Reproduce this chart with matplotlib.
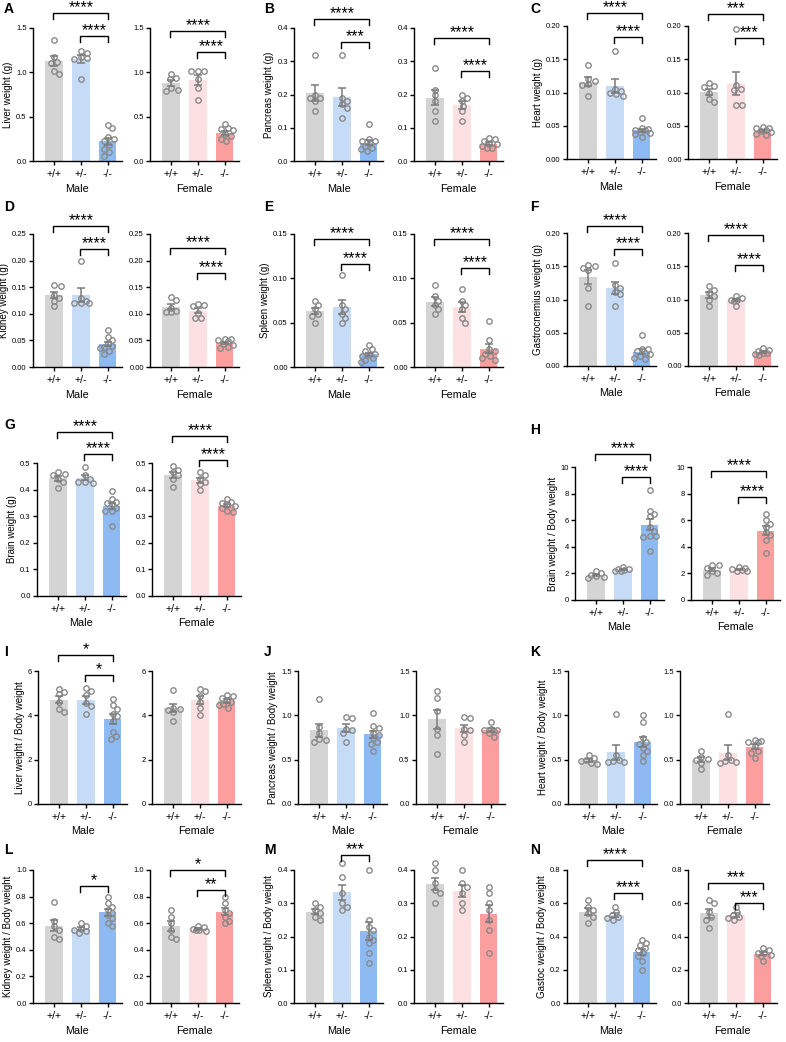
import numpy as np
import matplotlib
matplotlib.use('Agg')
import matplotlib.pyplot as plt

plt.rcParams['font.family'] = ['Liberation Sans', 'DejaVu Sans']

# ---------------- data (individual animals; bars = mean, error = SEM) ----------------
genotypes = ['+/+', '+/-', '-/-']
sexes = ['Male', 'Female']

liver_male = [[1.36, 1.17, 1.12, 1.10, 1.02, 0.98], [1.24, 1.22, 1.17, 1.16, 1.15, 0.93],
              [0.41, 0.37, 0.27, 0.25, 0.22, 0.18, 0.14, 0.10, 0.06]]
liver_female = [[0.985, 0.94, 0.92, 0.82, 0.80, 0.79], [1.02, 1.02, 1.02, 0.925, 0.82, 0.69],
                [0.42, 0.37, 0.36, 0.35, 0.30, 0.28, 0.25, 0.22]]

pancreas_male = [[0.32, 0.20, 0.19, 0.19, 0.18, 0.15], [0.32, 0.19, 0.18, 0.17, 0.16, 0.13],
                 [0.11, 0.065, 0.06, 0.06, 0.055, 0.045, 0.04, 0.035, 0.03]]
pancreas_female = [[0.28, 0.215, 0.197, 0.18, 0.15, 0.12], [0.20, 0.19, 0.18, 0.165, 0.15, 0.12],
                   [0.07, 0.065, 0.06, 0.05, 0.05, 0.045, 0.04, 0.04]]

heart_male = [[0.141, 0.121, 0.118, 0.113, 0.111, 0.095], [0.162, 0.105, 0.103, 0.099, 0.097, 0.095],
              [0.061, 0.046, 0.045, 0.044, 0.043, 0.041, 0.039, 0.037, 0.033]]
heart_female = [[0.114, 0.11, 0.108, 0.10, 0.09, 0.085], [0.196, 0.112, 0.106, 0.104, 0.081, 0.081],
                [0.048, 0.047, 0.046, 0.044, 0.042, 0.040, 0.038, 0.036]]

kidney_male = [[0.155, 0.152, 0.135, 0.13, 0.125, 0.115], [0.20, 0.13, 0.125, 0.12, 0.12, 0.12],
               [0.07, 0.057, 0.05, 0.045, 0.04, 0.037, 0.035, 0.03, 0.025]]
kidney_female = [[0.132, 0.126, 0.11, 0.105, 0.104, 0.104], [0.119, 0.117, 0.114, 0.101, 0.092, 0.092],
                 [0.053, 0.052, 0.05, 0.048, 0.044, 0.042, 0.038, 0.036]]

spleen_male = [[0.075, 0.07, 0.065, 0.06, 0.058, 0.05], [0.104, 0.07, 0.065, 0.06, 0.055, 0.05],
               [0.025, 0.02, 0.018, 0.015, 0.013, 0.012, 0.01, 0.008, 0.006]]
spleen_female = [[0.093, 0.08, 0.075, 0.07, 0.065, 0.06], [0.088, 0.075, 0.07, 0.065, 0.055, 0.05],
                 [0.052, 0.03, 0.02, 0.018, 0.015, 0.012, 0.01, 0.008]]

gastro_male = [[0.152, 0.15, 0.148, 0.145, 0.118, 0.09], [0.155, 0.122, 0.118, 0.112, 0.108, 0.09],
               [0.046, 0.026, 0.025, 0.022, 0.02, 0.018, 0.015, 0.012, 0.01]]
gastro_female = [[0.12, 0.115, 0.11, 0.105, 0.10, 0.09], [0.105, 0.103, 0.10, 0.10, 0.098, 0.09],
                 [0.027, 0.024, 0.022, 0.02, 0.019, 0.018, 0.016]]

brain_male = [[0.465, 0.46, 0.455, 0.44, 0.43, 0.405], [0.485, 0.455, 0.44, 0.43, 0.43, 0.425],
              [0.395, 0.365, 0.355, 0.35, 0.345, 0.33, 0.32, 0.32, 0.265]]
brain_female = [[0.49, 0.475, 0.465, 0.455, 0.44, 0.41], [0.465, 0.455, 0.44, 0.43, 0.42, 0.40],
                [0.365, 0.355, 0.35, 0.345, 0.34, 0.33, 0.32, 0.315]]

brain_ratio_male = [[2.2, 2.0, 1.9, 1.8, 1.7, 1.65], [2.5, 2.35, 2.3, 2.25, 2.2, 2.15],
                    [8.3, 6.7, 6.5, 6.3, 5.5, 5.2, 4.8, 4.8, 4.7, 3.7]]
brain_ratio_female = [[2.6, 2.6, 2.4, 2.2, 2.0, 1.9], [2.45, 2.4, 2.3, 2.25, 2.2, 2.15],
                      [6.5, 6.0, 5.7, 5.5, 5.1, 4.9, 4.5, 3.5]]

liver_ratio_male = [[5.2, 5.05, 4.95, 4.6, 4.3, 4.15], [5.25, 5.1, 4.9, 4.55, 4.4, 4.05],
                    [4.75, 4.45, 4.3, 4.05, 3.95, 3.75, 3.25, 3.05, 2.95]]
liver_ratio_female = [[5.15, 4.35, 4.3, 4.25, 4.15, 3.75], [5.2, 5.1, 4.85, 4.6, 4.35, 4.0],
                      [4.9, 4.85, 4.8, 4.7, 4.6, 4.5, 4.45, 4.35]]

pancreas_ratio_male = [[1.18, 0.87, 0.80, 0.73, 0.72, 0.70], [0.98, 0.97, 0.85, 0.83, 0.80, 0.70],
                       [1.03, 0.88, 0.86, 0.80, 0.78, 0.74, 0.70, 0.68, 0.60]]
pancreas_ratio_female = [[1.28, 1.20, 1.05, 0.85, 0.78, 0.56], [0.98, 0.97, 0.85, 0.83, 0.78, 0.70],
                         [0.93, 0.85, 0.84, 0.83, 0.82, 0.80, 0.76]]

heart_ratio_male = [[0.55, 0.52, 0.50, 0.48, 0.46, 0.45], [1.02, 0.55, 0.50, 0.48, 0.47, 0.47],
                    [1.0, 0.92, 0.75, 0.70, 0.68, 0.63, 0.60, 0.55, 0.48]]
heart_ratio_female = [[0.60, 0.53, 0.51, 0.50, 0.46, 0.40], [1.02, 0.55, 0.50, 0.48, 0.47, 0.46],
                      [0.72, 0.71, 0.70, 0.70, 0.65, 0.60, 0.58, 0.52]]

kidney_ratio_male = [[0.76, 0.62, 0.58, 0.55, 0.50, 0.48], [0.60, 0.58, 0.56, 0.55, 0.54, 0.53],
                     [0.80, 0.75, 0.72, 0.70, 0.68, 0.66, 0.64, 0.60, 0.58]]
kidney_ratio_female = [[0.70, 0.65, 0.60, 0.55, 0.50, 0.48], [0.58, 0.57, 0.56, 0.55, 0.55, 0.54],
                       [0.80, 0.75, 0.70, 0.68, 0.65, 0.62, 0.60]]

spleen_ratio_male = [[0.30, 0.29, 0.28, 0.27, 0.26, 0.25], [0.42, 0.38, 0.33, 0.30, 0.29, 0.28],
                     [0.40, 0.25, 0.23, 0.22, 0.20, 0.19, 0.18, 0.15, 0.12]]
spleen_ratio_female = [[0.42, 0.40, 0.36, 0.34, 0.33, 0.30], [0.40, 0.36, 0.35, 0.33, 0.30, 0.28],
                       [0.35, 0.33, 0.30, 0.28, 0.25, 0.22, 0.15]]

gastro_ratio_male = [[0.62, 0.58, 0.56, 0.54, 0.52, 0.48], [0.58, 0.55, 0.53, 0.52, 0.51, 0.50],
                     [0.38, 0.36, 0.35, 0.33, 0.32, 0.30, 0.28, 0.25, 0.20]]
gastro_ratio_female = [[0.62, 0.60, 0.55, 0.52, 0.50, 0.45], [0.58, 0.55, 0.53, 0.52, 0.51, 0.50],
                       [0.33, 0.32, 0.30, 0.30, 0.29, 0.28, 0.25]]

# significance: (sex index, group a, group b, label)
sig_A = [(0, 0, 2, '****'), (0, 1, 2, '****'), (1, 0, 2, '****'), (1, 1, 2, '****')]
sig_B = [(0, 0, 2, '****'), (0, 1, 2, '***'), (1, 0, 2, '****'), (1, 1, 2, '****')]
sig_C = [(0, 0, 2, '****'), (0, 1, 2, '****'), (1, 0, 2, '***'), (1, 1, 2, '***')]
sig_D = [(0, 0, 2, '****'), (0, 1, 2, '****'), (1, 0, 2, '****'), (1, 1, 2, '****')]
sig_E = [(0, 0, 2, '****'), (0, 1, 2, '****'), (1, 0, 2, '****'), (1, 1, 2, '****')]
sig_F = [(0, 0, 2, '****'), (0, 1, 2, '****'), (1, 0, 2, '****'), (1, 1, 2, '****')]
sig_G = [(0, 0, 2, '****'), (0, 1, 2, '****'), (1, 0, 2, '****'), (1, 1, 2, '****')]
sig_H = [(0, 0, 2, '****'), (0, 1, 2, '****'), (1, 0, 2, '****'), (1, 1, 2, '****')]
sig_I = [(0, 0, 2, '*'), (0, 1, 2, '*')]
sig_L = [(0, 1, 2, '*'), (1, 0, 2, '*'), (1, 1, 2, '**')]
sig_M = [(0, 1, 2, '***')]
sig_N = [(0, 0, 2, '****'), (0, 1, 2, '****'), (1, 0, 2, '***'), (1, 1, 2, '***')]

# ---------------- styling / layout ----------------
W, H = 786, 1042
fig = plt.figure(figsize=(W / 100, H / 100), dpi=100)

colors = [['#d4d4d4', '#c6dcf6', '#8dbaf3'], ['#d4d4d4', '#fde0e2', '#fa9e9e']]
DOT = '#8a8a8a'
ERR = '#7a7a7a'

AX_W, AX_H = 89, 133
XLIM = (-0.79, 2.54)
col_left = [(33, 150), (294, 414), (567, 688)]
letter_x = [4, 264, 530]


def add_ax(left, top):
    return fig.add_axes([left / W, 1 - (top + AX_H) / H, AX_W / W, AX_H / H])


def swarm(vals, ppu_y, ppu_x, diam=5.2, step=1.6, maxoff=8.5):
    vals = np.asarray(vals, float)
    order = np.argsort(-vals, kind='stable')
    placed = []
    offs = np.zeros(len(vals))
    cands = [0.0]
    m = 1
    while m * step <= maxoff:
        cands += [m * step, -m * step]
        m += 1
    for i in order:
        y = vals[i] * ppu_y
        best, bestd = 0.0, -1.0
        for c in cands:
            d = min([np.hypot(c - px, y - py) for px, py in placed] + [1e9])
            if d >= diam:
                best = c
                break
            if d > bestd + 0.3:
                bestd, best = d, c
        placed.append((best, y))
        offs[i] = best / ppu_x
    return offs


def draw_group(ax, sex, groups, ymax):
    ppu_y = AX_H / ymax
    ppu_x = AX_W / (XLIM[1] - XLIM[0])
    for g, vals in enumerate(groups):
        v = np.asarray(vals, float)
        m = v.mean()
        sem = v.std(ddof=1) / np.sqrt(len(v))
        ax.bar(g, m, width=0.66, color=colors[sex][g], zorder=1)
        xo = swarm(v, ppu_y, ppu_x)
        ax.plot(g + xo, v, 'o', ms=3.9, mfc='none', mec=DOT, mew=1.0, zorder=3, clip_on=False)
        ax.errorbar(g, m, yerr=sem, fmt='none', ecolor=ERR, elinewidth=1.1,
                    capsize=3, capthick=1.1, zorder=4)


def bracket(ax, a, b, label, dy_px, ymax):
    y = ymax + dy_px * ymax / AX_H
    tick = 6 * ymax / AX_H
    xa, xb = a - 0.03, b + 0.03
    ax.plot([xa, xa, xb, xb], [y - tick, y, y, y - tick], color='black', lw=1.0,
            clip_on=False, zorder=5, solid_joinstyle='miter')
    ax.text((xa + xb) / 2, y + 0.4 * ymax / AX_H, label, ha='center', va='baseline',
            fontsize=11.5, clip_on=False)


def panel(letter, col, top, letter_y, ylabel, data, ymax, ticks, fmt, sigs, offsets, lefts=None):
    axes = []
    lefts = lefts or col_left[col]
    for s in range(2):
        ax = add_ax(lefts[s], top)
        draw_group(ax, s, data[s], ymax)
        ax.set_xlim(*XLIM)
        ax.set_ylim(0, ymax)
        ax.set_yticks(ticks)
        ax.set_yticklabels([fmt.format(t) for t in ticks], fontsize=5.5)
        ax.set_xticks(range(3))
        ax.set_xticklabels(genotypes, fontsize=7.6)
        ax.set_xlabel(sexes[s], fontsize=7.8, labelpad=3)
        for sp in ['top', 'right']:
            ax.spines[sp].set_visible(False)
        for sp in ['left', 'bottom']:
            ax.spines[sp].set_linewidth(1.0)
        ax.tick_params(direction='out', length=3, width=1.0, pad=1.5)
        ax.tick_params(axis='x', pad=3)
        if s == 0:
            ax.set_ylabel(ylabel, fontsize=7, labelpad=2)
        axes.append(ax)
    for (s, a, b, lab), dy in zip(sigs, offsets):
        bracket(axes[s], a, b, lab, dy, ymax)
    fig.text(letter_x[col] / W, 1 - letter_y / H, letter, fontsize=10, fontweight='bold',
             ha='left', va='center')


f2 = '{:.1f}'
f3 = '{:.2f}'
fi = '{:.0f}'

panel('A', 0, 28, 9, 'Liver weight (g)', [liver_male, liver_female], 1.5,
      [0, 0.5, 1.0, 1.5], f2, sig_A, [15, -8, -3, -24])
panel('B', 1, 28, 9, 'Pancreas weight (g)', [pancreas_male, pancreas_female], 0.4,
      [0, 0.1, 0.2, 0.3, 0.4], f2, sig_B, [9, -14, -10, -43])
panel('C', 2, 26, 9, 'Heart weight (g)', [heart_male, heart_female], 0.20,
      [0, 0.05, 0.10, 0.15, 0.20], f3, sig_C, [13, -11, 12, -12])

panel('D', 0, 234, 207, 'Kidney weight (g)', [kidney_male, kidney_female], 0.25,
      [0, 0.05, 0.10, 0.15, 0.20, 0.25], f3, sig_D, [8, -15, -14, -39])
panel('E', 1, 234, 207, 'Spleen weight (g)', [spleen_male, spleen_female], 0.15,
      [0, 0.05, 0.10, 0.15], f3, sig_E, [-5, -30, -5, -34])
panel('F', 2, 233, 207, 'Gastrocnemius weight (g)', [gastro_male, gastro_female], 0.20,
      [0, 0.05, 0.10, 0.15, 0.20], f3, sig_F, [7, -16, -2, -32])

panel('G', 0, 463, 425, 'Brain weight (g)', [brain_male, brain_female], 0.5,
      [0, 0.1, 0.2, 0.3, 0.4, 0.5], f2, sig_G, [31, 9, 27, 3], lefts=(37, 152))
panel('H', 2, 467, 430, 'Brain weight / Body weight', [brain_ratio_male, brain_ratio_female], 10,
      [0, 2, 4, 6, 8, 10], fi, sig_H, [13, -10, -4, -30], lefts=(575, 691))

panel('I', 0, 671, 652, 'Liver weight / Body weight', [liver_ratio_male, liver_ratio_female], 6,
      [0, 2, 4, 6], fi, sig_I, [16, -4], lefts=(38, 152))
panel('J', 1, 671, 652, 'Pancreas weight / Body weight', [pancreas_ratio_male, pancreas_ratio_female], 1.5,
      [0, 0.5, 1.0, 1.5], f2, [], [], lefts=(298, 416))
panel('K', 2, 671, 652, 'Heart weight / Body weight', [heart_ratio_male, heart_ratio_female], 1.5,
      [0, 0.5, 1.0, 1.5], f2, [], [], lefts=(568, 680))

panel('L', 0, 870, 850, 'Kidney weight / Body weight', [kidney_ratio_male, kidney_ratio_female], 1.0,
      [0, 0.2, 0.4, 0.6, 0.8, 1.0], f2, sig_L, [-16, 0, -20])
panel('M', 1, 870, 850, 'Spleen weight / Body weight', [spleen_ratio_male, spleen_ratio_female], 0.4,
      [0, 0.1, 0.2, 0.3, 0.4], f2, sig_M, [15])
panel('N', 2, 870, 850, 'Gastoc weight / Body weight', [gastro_ratio_male, gastro_ratio_female], 0.8,
      [0, 0.2, 0.4, 0.6, 0.8], f2, sig_N, [10, -23, -13, -33])

fig.savefig('out.png', dpi=100, facecolor='white')
